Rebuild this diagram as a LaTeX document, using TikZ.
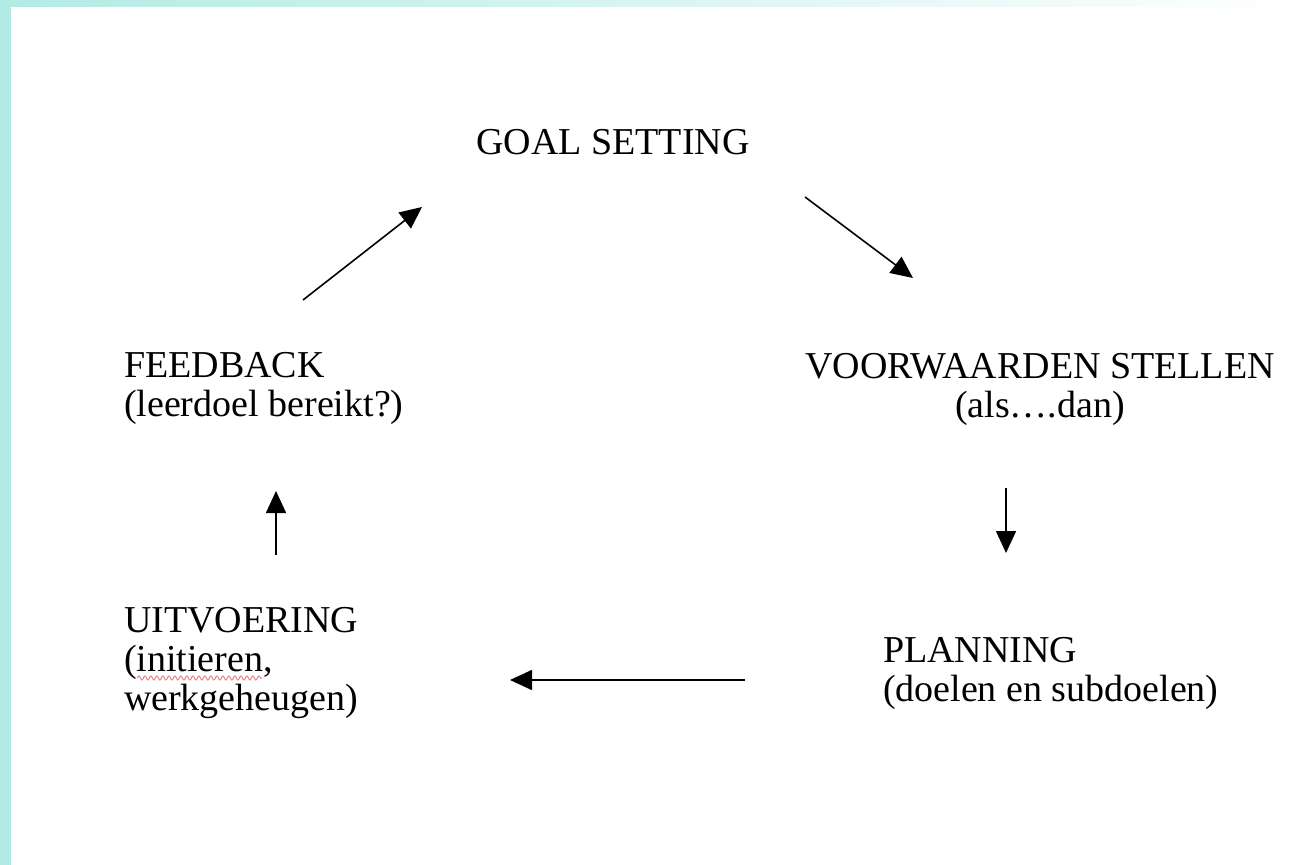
\documentclass[tikz,border=0pt]{standalone}
\usepackage{fontspec}
\setmainfont{Liberation Serif}
\usetikzlibrary{arrows.meta,decorations.pathmorphing}
\definecolor{slidebg}{RGB}{178,235,228}
\definecolor{spellred}{RGB}{232,130,130}
\begin{document}
\begin{tikzpicture}[x=0.5pt,y=-0.5pt,
  lbl/.style={inner sep=0pt, outer sep=0pt, font=\fontsize{19pt}{19.5pt}\selectfont, align=left},
  flow/.style={line width=0.8pt, -{Triangle[length=11pt,width=10pt]}}]
\useasboundingbox (0,0) rectangle (1299,865);
\fill[slidebg] (0,0) rectangle (1299,865);
\shade[left color=slidebg, right color=white] (0,0) rectangle (1299,7);
\fill[white] (11,7) rectangle (1299,865);

% multi-line nodes: the base anchor sits on the last line's baseline
\node[lbl, anchor=base] (goal) at (613,155) {GOAL SETTING};
\node[lbl, anchor=base west] (feedback) at (124,416) {FEEDBACK\\(leerdoel bereikt?)};
\node[lbl, align=center, anchor=base] (voorw) at (1040,417) {VOORWAARDEN STELLEN\\(als….dan)};
\node[lbl, anchor=base west] (plan) at (883,701) {PLANNING\\(doelen en subdoelen)};
\node[lbl, anchor=base west] (uitv) at (124,710) {UITVOERING\\(initieren,\\werkgeheugen)};

\coordinate (a1s) at (303,300); \coordinate (a1e) at (422,207);
\coordinate (a2s) at (805,197); \coordinate (a2e) at (913,278);
\coordinate (a3s) at (1006,488); \coordinate (a3e) at (1006,553);
\coordinate (a4s) at (745,680); \coordinate (a4e) at (510,680);
\coordinate (a5s) at (276,555); \coordinate (a5e) at (276,491);

\draw[flow] (a1s) -- (a1e);
\draw[flow] (a2s) -- (a2e);
\draw[flow] (a3s) -- (a3e);
\draw[flow] (a4s) -- (a4e);
\draw[flow] (a5s) -- (a5e);

\coordinate (sq1) at (137,678); \coordinate (sq2) at (262,678);
\draw[spellred, line width=0.5pt, decorate, decoration={snake, amplitude=1pt, segment length=3pt}] (sq1) -- (sq2);
\end{tikzpicture}
\end{document}
